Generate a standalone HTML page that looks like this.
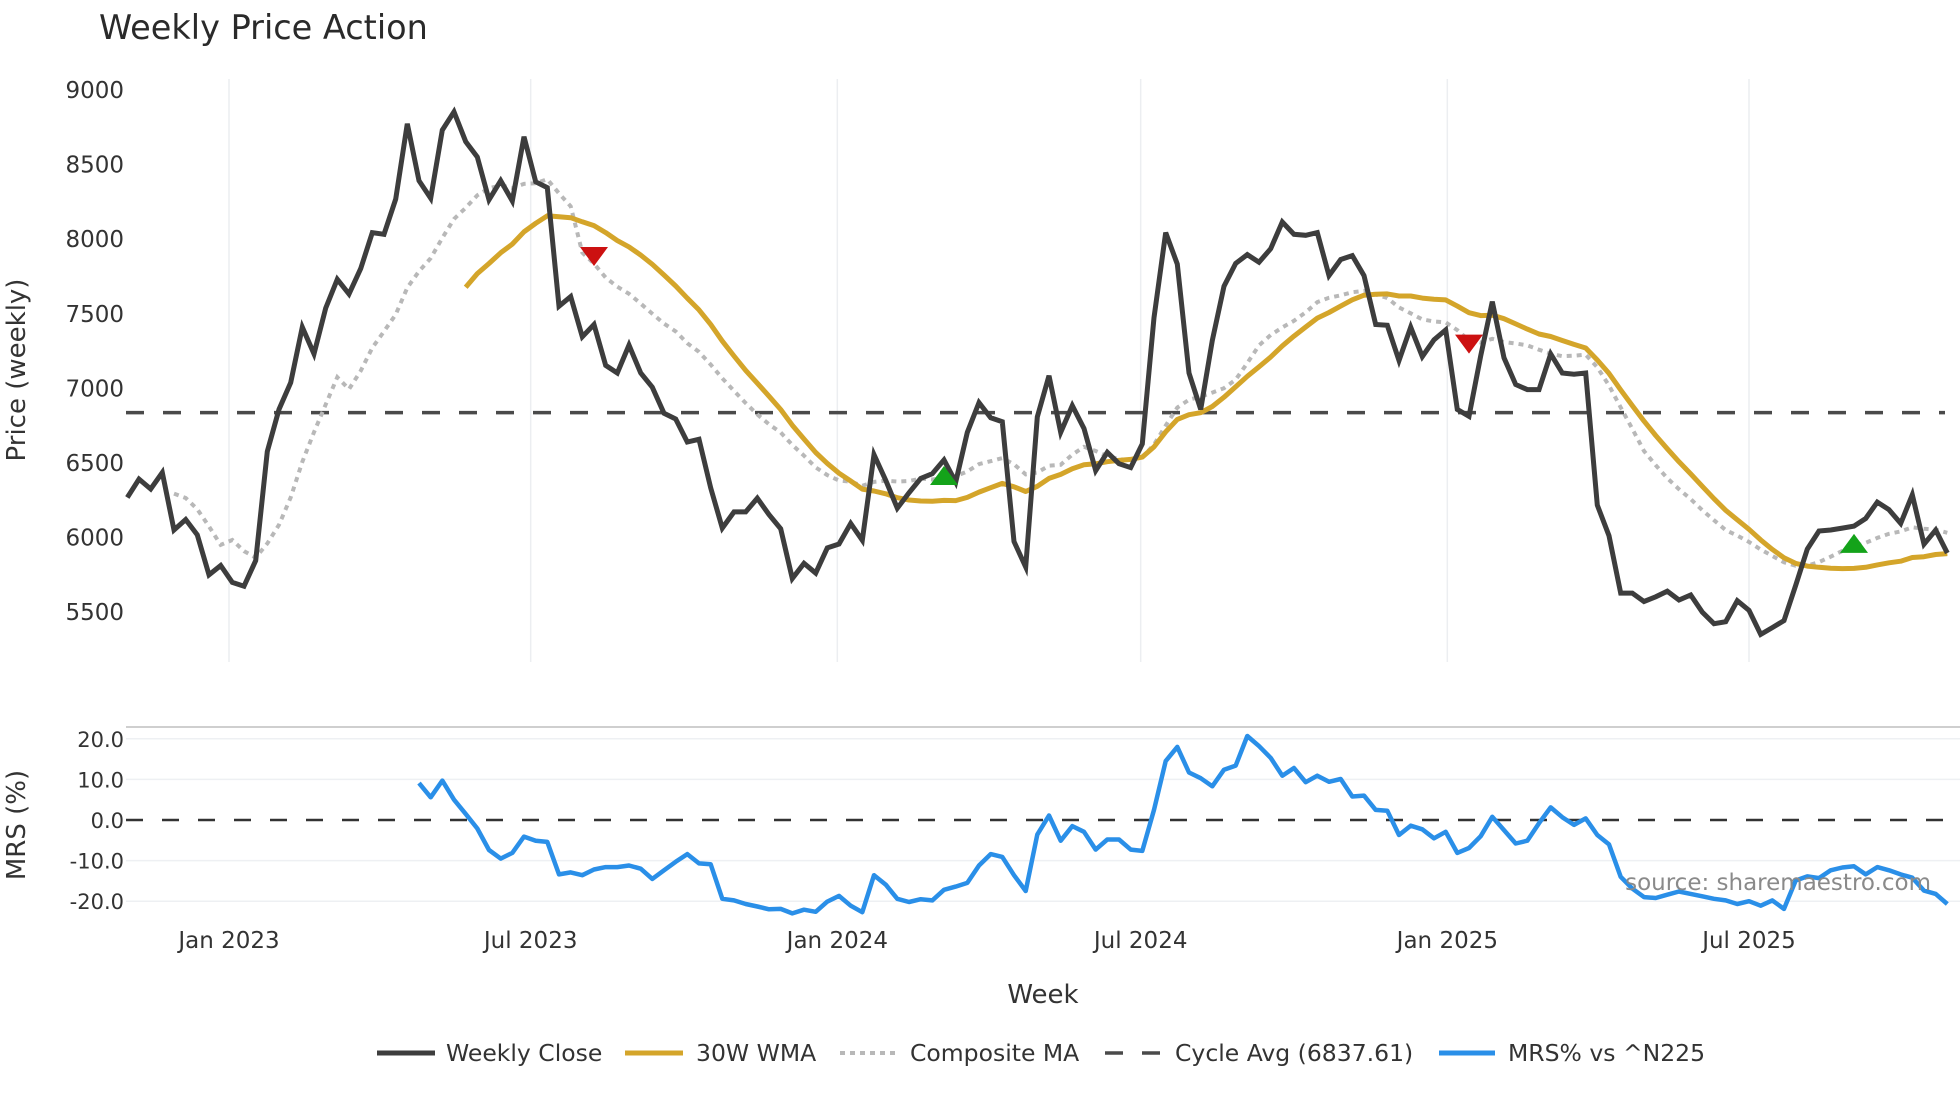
<!DOCTYPE html>
<html><head><meta charset="utf-8">
<style>
html,body{margin:0;padding:0;background:#fff;}
svg{display:block;font-family:"DejaVu Sans","Liberation Sans",sans-serif;}
</style></head>
<body>
<svg id="chart" width="1960" height="1102" viewBox="0 0 1960 1102" xmlns="http://www.w3.org/2000/svg">
<rect width="1960" height="1102" fill="#fff"/>
<text x="99" y="39" font-size="33.5" fill="#2a2a2a">Weekly Price Action</text>
<g id="grid"></g>
<g id="axes"></g>
<g id="series"></g>
<text transform="translate(25,370) rotate(-90)" text-anchor="middle" font-size="26" fill="#333">Price (weekly)</text>
<text transform="translate(25,825) rotate(-90)" text-anchor="middle" font-size="26" fill="#333">MRS (%)</text>
<text x="1043" y="1003" text-anchor="middle" font-size="26" fill="#333">Week</text>
<text x="1931" y="890" text-anchor="end" font-size="23" fill="#8a8a8a">source: sharemaestro.com</text>
<g font-size="23.5" fill="#333">
  <g><line x1="377" y1="1053" x2="435" y2="1053" stroke="#3d3d3d" stroke-width="5"/><text x="446" y="1061">Weekly Close</text></g>
  <g><line x1="625" y1="1053" x2="683" y2="1053" stroke="#d4a52a" stroke-width="5"/><text x="696" y="1061">30W WMA</text></g>
  <g><line x1="840" y1="1053" x2="895" y2="1053" stroke="#b8b8b8" stroke-width="4" stroke-dasharray="5,5"/><text x="910" y="1061">Composite MA</text></g>
  <g><line x1="1105" y1="1053" x2="1160" y2="1053" stroke="#4a4a4a" stroke-width="3.5" stroke-dasharray="18,19"/><text x="1175" y="1061">Cycle Avg (6837.61)</text></g>
  <g><line x1="1439" y1="1053" x2="1495" y2="1053" stroke="#2a8fe8" stroke-width="5"/><text x="1508" y="1061">MRS% vs ^N225</text></g>
</g>
</svg>
<script>
const startDate = "2022-11-01";
const closes = [6269,6392,6326,6436,6051,6121,6018,5751,5813,5700,5674,5846,6577,6859,7039,7410,7231,7538,7731,7633,7803,8044,8033,8269,8774,8392,8274,8731,8854,8654,8551,8264,8392,8256,8687,8385,8346,7551,7615,7346,7428,7154,7103,
7290,7103,7008,6833,6795,6641,6659,6333,6064,6172,6172,6264,6154,6059,5726,5828,5762,5931,5957,6095,5982,6556,6385,6197,6300,6397,6428,6521,6372,6705,6905,6803,6777,5974,5803,6808,7085,6705,6885,6731,6449,
6572,6495,6469,6628,7474,8044,7833,7103,6859,7321,7685,7838,7897,7846,7936,8115,8033,8026,8044,7756,7864,7890,7756,7428,7423,7187,7410,7213,7326,7392,6859,6813,7218,7582,7205,7026,6992,6992,7231,7103,7095,
7103,6218,6013,5628,5628,5572,5603,5641,5582,5615,5500,5423,5436,5577,5513,5351,5397,5444,5680,5923,6044,6051,6064,6077,6128,6238,6187,6095,6287,5956,6051,5897];
const mrsStart = 25;
const mrs = [9.1,5.6,9.7,5.0,1.5,-2.1,-7.4,-9.5,-8.1,-4.1,-5.1,-5.4,-13.4,-12.9,-13.6,-12.2,-11.6,-11.6,-11.2,-12.0,-14.5,-12.4,-10.3,-8.4,-10.7,-10.9,-19.4,-19.8,-20.7,-21.3,-22.0,-21.9,-23.0,-22.1,-22.6,-20.1,-18.7,-21.1,-22.7,-13.6,-15.9,-19.4,-20.2,-19.5,-19.8,-17.2,-16.4,-15.5,-11.2,-8.4,-9.1,-13.6,-17.5,-3.6,1.1,-5.1,-1.5,-2.9,-7.3,-4.8,-4.8,-7.3,-7.6,2.5,14.5,18.0,
11.7,10.3,8.3,12.4,13.4,20.7,18.2,15.3,10.9,12.8,9.3,10.9,9.4,10.1,5.8,6.0,2.5,2.3,-3.7,-1.4,-2.3,-4.5,-2.9,-8.1,-6.9,-4.0,0.8,-2.5,-5.8,-5.1,-0.8,3.1,0.7,-1.2,0.4,-3.7,-6.0,-14.0,-16.9,-19.0,-19.2,-18.4,-17.6,-18.2,-18.8,-19.4,-19.8,-20.7,-20.0,-21.1,-19.8,-21.9,-14.9,-13.9,-14.3,-12.4,-11.7,-11.4,-13.4,-11.6,-12.4,-13.4,-14.2,-17.4,-18.2,-20.7];
const cycleAvg = 6837.61;
const sellIdx = [40,115];
const sellPrice = [7887,7300];
const buyIdx = [70,148];
const buyPrice = [6413,5958];
const priceTicks = [5500,6000,6500,7000,7500,8000,8500,9000];
const mrsTicks = [20,10,0,-10,-20];
const dateTicks = ["2023-01-01","2023-07-01","2024-01-01","2024-07-01","2025-01-01","2025-07-01"];
const dateTickLabels = ["Jan 2023","Jul 2023","Jan 2024","Jul 2024","Jan 2025","Jul 2025"];

const NS="http://www.w3.org/2000/svg";
const DAY=86400000;
const t0=Date.parse("2023-01-01");
function xDate(d){return 229+(Date.parse(d)-t0)/DAY*(1520/912);}
const s0=Date.parse(startDate);
function xIdx(i){return 229+((s0+i*7*DAY)-t0)/DAY*(1520/912);}
function yP(v){return 90+(9000-v)*74.6/500;}
function yM(v){return 820-v*4.06;}
function mk(tag,attrs,parent){const e=document.createElementNS(NS,tag);for(const k in attrs)e.setAttribute(k,attrs[k]);parent.appendChild(e);return e;}
const grid=document.getElementById('grid'),axes=document.getElementById('axes'),series=document.getElementById('series');

dateTicks.forEach((d,i)=>{
  const x=xDate(d);
  const g=mk('line',{x1:x,x2:x,y1:79,y2:662,stroke:'#eceef1','stroke-width':1.5},grid);
  
  
  const t=mk('text',{x:x,y:948,'text-anchor':'middle','font-size':23,fill:'#333'},axes);
  t.textContent=dateTickLabels[i];
  
  
});
priceTicks.forEach(v=>{
  const t=mk('text',{x:124,y:yP(v)+8,'text-anchor':'end','font-size':23,fill:'#333'},axes);
  t.textContent=v;
  
  
});
const border=mk('line',{x1:126,x2:1960,y1:727,y2:727,stroke:'#cfcfcf','stroke-width':2},grid);


mrsTicks.forEach(v=>{
  if(v!==0){const g=mk('line',{x1:126,x2:1960,y1:yM(v),y2:yM(v),stroke:'#eef0f3','stroke-width':1.5},grid);
  
  }
  const t=mk('text',{x:124,y:yM(v)+8,'text-anchor':'end','font-size':21,fill:'#333'},axes);
  t.textContent=v.toFixed(1);
  
  
});
const zl=mk('line',{x1:126,x2:1960,y1:yM(0),y2:yM(0),stroke:'#333','stroke-width':2.5,'stroke-dasharray':'17,19'},series);



function sma(i,n){if(i<n-1)return null;let s=0;for(let k=i-n+1;k<=i;k++)s+=closes[k];return s/n;}
const wma=closes.map((c,i)=>{if(i<29)return null;let s=0,w=0;for(let k=0;k<30;k++){s+=closes[i-29+k]*(k+1);w+=k+1;}return s/w;});
const comp=closes.map((c,i)=>{const a=[sma(i,5),sma(i,10),sma(i,20),sma(i,40)].filter(v=>v!==null);return a.length?a.reduce((p,q)=>p+q,0)/a.length:null;});

const cl=mk('line',{x1:126,x2:1945,y1:yP(cycleAvg),y2:yP(cycleAvg),stroke:'#4a4a4a','stroke-width':3.5,'stroke-dasharray':'18,19'},series);



function path(arr,fy,off){let d='';arr.forEach((v,i)=>{if(v===null)return;d+=(d?'L':'M')+xIdx(i+off).toFixed(1)+','+fy(v).toFixed(1);});return d;}
const pc=mk('path',{d:path(comp,yP,0),fill:'none',stroke:'#b8b8b8','stroke-width':4,'stroke-dasharray':'5,5'},series);


const pw=mk('path',{d:path(wma,yP,0),fill:'none',stroke:'#d4a52a','stroke-width':5,'stroke-linejoin':'round'},series);


const pcl=mk('path',{d:path(closes,yP,0),fill:'none',stroke:'#3d3d3d','stroke-width':5,'stroke-linejoin':'miter'},series);


const pm=mk('path',{d:path(mrs,yM,mrsStart),fill:'none',stroke:'#2a8fe8','stroke-width':4.5,'stroke-linejoin':'round'},series);



sellIdx.forEach((ix,i)=>{
  const x=xIdx(ix),y=yP(sellPrice[i]);
  const p=mk('polygon',{points:`${x-14},${y-9} ${x+14},${y-9} ${x},${y+10}`,fill:'#cc1111'},series);
  
  
});
buyIdx.forEach((ix,i)=>{
  const x=xIdx(ix),y=yP(buyPrice[i]);
  const p=mk('polygon',{points:`${x-14},${y+9} ${x+14},${y+9} ${x},${y-10}`,fill:'#14a31a'},series);
  
  
});
</script>
</body></html>
